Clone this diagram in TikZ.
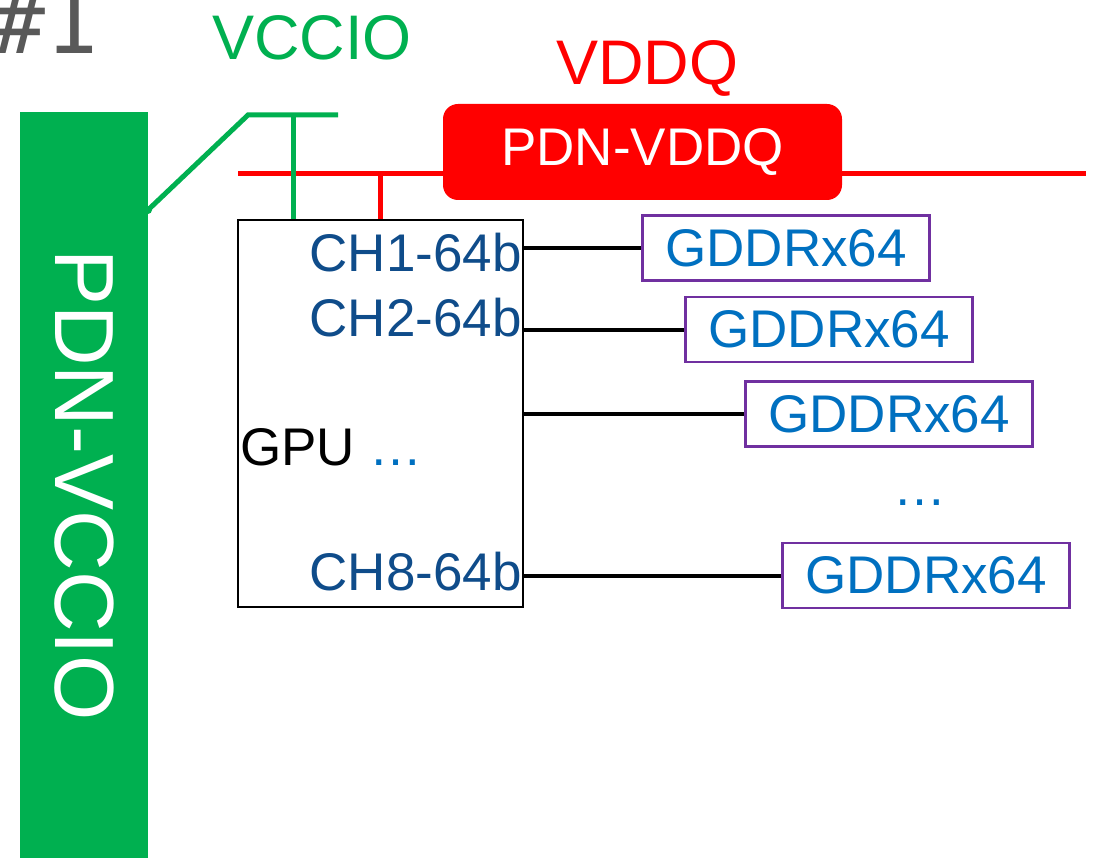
\documentclass[tikz,border=0pt]{standalone}
\usepackage{fontspec}
\setmainfont{Liberation Sans}
\newfontfamily\monofont{DejaVu Sans Mono}
\usepackage{tikz}
\usetikzlibrary{positioning,calc}
\definecolor{pdngreen}{HTML}{00B050}
\definecolor{pdnred}{HTML}{FF0000}
\definecolor{chblue}{HTML}{0F4C8A}
\definecolor{memblue}{HTML}{0070C0}
\definecolor{memframe}{HTML}{7030A0}
\definecolor{tagrey}{HTML}{595959}
\tikzset{
  bigfont/.style={font=\fontsize{63}{70}\selectfont},
  midfont/.style={font=\fontsize{53}{60}\selectfont},
  railgreen/.style={draw=pdngreen,line width=5pt},
  railred/.style={draw=pdnred,line width=5pt},
  chlabel/.style={midfont,text=chblue,inner sep=0pt,anchor=base east},
  gddr/.style={rectangle,draw=memframe,line width=2.5pt,text=memblue,midfont,minimum width=287pt,minimum height=65pt,inner sep=0pt},
  bus/.style={draw=black,line width=4pt}
}
\begin{document}
\begin{tikzpicture}[x=1pt,y=-1pt]
    \useasboundingbox (0,0) rectangle (1094,858);

    % Tag (cut by the page edge)
    \node[font=\monofont\fontsize{88}{90}\selectfont,text=tagrey,inner sep=0pt,anchor=base east] (tag) at (99,54) {\#1};

    % Rails
    \node[bigfont,text=pdngreen,inner sep=0pt,anchor=base west] (vcciolbl) at (212,60) {VCCIO};
    \node[bigfont,text=pdnred,inner sep=0pt,anchor=base west] (vddqlbl) at (556,85) {VDDQ};
    \node[fill=pdngreen,text=white,font=\fontsize{84}{90}\selectfont,minimum width=746pt,minimum height=128pt,inner sep=0pt,rotate=-90] (pdnvccio) at (84,485) {PDN-VCCIO};

    \coordinate (redL) at (238,174);
    \coordinate (redR) at (1086,174);
    \draw[railred] (redL) -- (redR);
    \node[fill=pdnred,text=white,rounded corners=15pt,minimum width=399pt,minimum height=96pt,inner sep=0pt,font=\fontsize{53}{60}\selectfont] (pdnvddq) at (642.5,152) {PDN-VDDQ};

    % GPU
    \node[draw=black,line width=2.5pt,minimum width=285pt,minimum height=387pt,inner sep=0pt] (gpu) at (380.5,413.5) {};
    \node[midfont,inner sep=0pt,anchor=base west] (gpulbl) at (240,465) {GPU \textcolor{memblue}{…}};
    \node[chlabel] (ch1) at (522,272) {CH1-64b};
    \node[chlabel] (ch2) at (522,336) {CH2-64b};
    \node[chlabel] (ch8) at (522,590) {CH8-64b};

    % Supply taps
    \coordinate (knee) at (248,115);
    \coordinate (vccioR) at (338,115);
    \coordinate (tapG) at (293,115);
    \coordinate (padG) at (148,210);
    \draw[railgreen] (padG) -- (knee) -- (vccioR);
    \draw[railgreen] (tapG) -- (tapG |- gpu.north);
    \fill[pdngreen] (padG) circle (4pt);
    \coordinate (tapR) at (380,174);
    \draw[railred] (tapR) -- (tapR |- gpu.north);

    % Memories
    \node[gddr] (g1) at (786,248) {GDDRx64};
    \node[gddr] (g2) at (829,329.5) {GDDRx64};
    \node[gddr] (g3) at (889,414) {GDDRx64};
    \node[gddr] (g8) at (926,575.5) {GDDRx64};
    \node[midfont,text=memblue,inner sep=0pt,anchor=base west] (gdots) at (893,505) {…};

    \foreach \g in {g1,g2,g3,g8} \draw[bus] (\g.west -| gpu.east) -- (\g.west);
\end{tikzpicture}
\end{document}
